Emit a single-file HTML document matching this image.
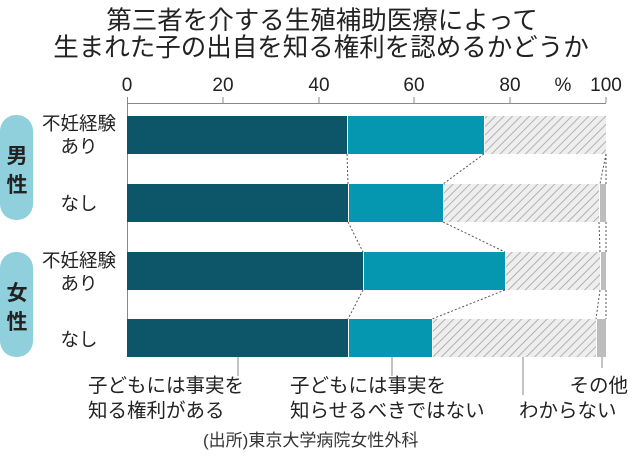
<!DOCTYPE html>
<html><head><meta charset="utf-8"><style>
body{margin:0;background:#fff}
svg{display:block;font-family:"Liberation Sans","Noto Sans CJK JP",sans-serif}
</style></head><body>
<svg width="637" height="457" viewBox="0 0 637 457" xmlns="http://www.w3.org/2000/svg">
<defs>
<pattern id="h" width="6" height="6" patternUnits="userSpaceOnUse" patternTransform="rotate(45)">
<rect width="6" height="6" fill="#eeeeee"/><line x1="0" y1="0" x2="0" y2="6" stroke="#aaaaaa" stroke-width="1.8"/>
</pattern>
</defs>
<g font-size="25.5" fill="#222" text-anchor="middle">
<text x="322" y="29">第三者を介する生殖補助医療によって</text>
<text x="321" y="56">生まれた子の出自を知る権利を認めるかどうか</text>
</g>
<g font-size="19" fill="#222" text-anchor="middle">
<text x="127" y="91">0</text><text x="223" y="91">20</text><text x="319" y="91">40</text>
<text x="414" y="91">60</text><text x="510" y="91">80</text><text x="563" y="91">%</text><text x="606" y="91">100</text>
</g>
<g stroke="#888" stroke-width="1">
<line x1="127" y1="103.5" x2="606" y2="103.5"/>
<line x1="127.5" y1="97" x2="127.5" y2="357"/>
<line x1="223" y1="97" x2="223" y2="103"/><line x1="319" y1="97" x2="319" y2="103"/>
<line x1="414" y1="97" x2="414" y2="103"/><line x1="510" y1="97" x2="510" y2="103"/>
<line x1="606" y1="97" x2="606" y2="103"/>
</g>
<g>
<rect x="127" y="116" width="220" height="38" fill="#0d5669"/>
<rect x="348" y="116" width="136" height="38" fill="#0596b0"/>
<rect x="485" y="116" width="121" height="38" fill="url(#h)"/>

<rect x="127" y="184" width="221" height="38" fill="#0d5669"/>
<rect x="349" y="184" width="94" height="38" fill="#0596b0"/>
<rect x="444" y="184" width="155" height="38" fill="url(#h)"/>
<rect x="600" y="184" width="6" height="38" fill="#bdbdbd"/>

<rect x="127" y="252" width="236" height="38" fill="#0d5669"/>
<rect x="364" y="252" width="141" height="38" fill="#0596b0"/>
<rect x="506" y="252" width="94" height="38" fill="url(#h)"/>
<rect x="601" y="252" width="5" height="38" fill="#bdbdbd"/>

<rect x="127" y="319" width="221" height="38" fill="#0d5669"/>
<rect x="349" y="319" width="83" height="38" fill="#0596b0"/>
<rect x="433" y="319" width="163" height="38" fill="url(#h)"/>
<rect x="597" y="319" width="9" height="38" fill="#bdbdbd"/>
</g>
<g stroke="#555" stroke-width="1" stroke-dasharray="2,2" fill="none">
<line x1="347" y1="154" x2="348" y2="184"/><line x1="484" y1="154" x2="443" y2="184"/><line x1="606" y1="154" x2="600" y2="184"/><line x1="606" y1="154" x2="606" y2="184"/>
<line x1="348" y1="222" x2="363" y2="252"/><line x1="443" y1="222" x2="505" y2="252"/><line x1="599" y1="222" x2="600" y2="252"/><line x1="606" y1="222" x2="606" y2="252"/>
<line x1="363" y1="290" x2="348" y2="319"/><line x1="505" y1="290" x2="432" y2="319"/><line x1="600" y1="290" x2="596" y2="319"/><line x1="606" y1="290" x2="606" y2="319"/>
</g>
<g stroke="#888" stroke-width="1">
<line x1="238" y1="357" x2="238" y2="376"/><line x1="392" y1="357" x2="392" y2="376"/>
<line x1="523" y1="357" x2="523" y2="395"/><line x1="602" y1="357" x2="602" y2="368"/>
</g>
<rect x="0" y="115" width="33" height="105" rx="16" fill="#8fd0dc"/>
<rect x="0" y="252" width="33" height="105" rx="16" fill="#8fd0dc"/>
<g font-size="21" font-weight="bold" fill="#222" text-anchor="middle">
<text x="17" y="163">男</text><text x="17" y="192">性</text>
<text x="17" y="300">女</text><text x="17" y="329">性</text>
</g>
<g font-size="18.5" fill="#222" text-anchor="middle">
<text x="79" y="130">不妊経験</text><text x="79" y="153">あり</text><text x="79" y="210">なし</text>
<text x="79" y="267">不妊経験</text><text x="79" y="290">あり</text><text x="79" y="346">なし</text>
</g>
<g font-size="19.5" fill="#222">
<text x="88" y="392">子どもには事実を</text><text x="88" y="417">知る権利がある</text>
<text x="290" y="392">子どもには事実を</text><text x="290" y="417">知らせるべきではない</text>
<text x="519" y="417">わからない</text>
<text x="628" y="392" text-anchor="end">その他</text>
</g>
<text x="203" y="446" font-size="17" fill="#333">(出所)東京大学病院女性外科</text>
</svg>
</body></html>
